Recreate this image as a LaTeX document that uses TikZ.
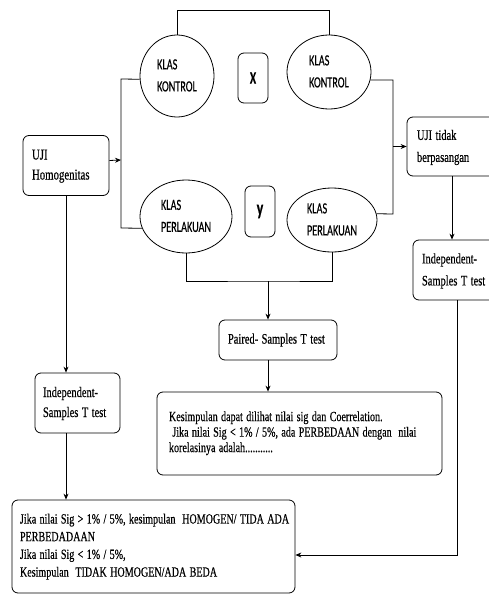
\documentclass[tikz,border=0pt]{standalone}
\usepackage{fontspec}
\usepackage{graphicx}
\setmainfont{Liberation Serif}[FakeBold=0.6,WordSpace=0.75]
\newfontfamily\klasfont{Carlito}[FakeBold=0.4]
\newcommand\sqz[2][0.72]{\scalebox{#1}[1]{\begin{tabular}{@{}l@{}}#2\end{tabular}}}
\usetikzlibrary{arrows.meta,shapes.geometric}
\begin{document}
\begin{tikzpicture}[x=1pt,y=-1pt,line width=0.8pt,
  arr/.style={-{Stealth[length=6pt,width=5pt]}},
  bx/.style={draw,rounded corners=6pt,inner ysep=0pt,align=left},
  sbox/.style={draw,rounded corners=6pt,inner sep=0pt,minimum width=30pt,font=\klasfont\bfseries\fontsize{17}{20}\selectfont},
  el/.style={draw,ellipse,inner sep=0pt,font=\klasfont\fontsize{15.5}{22}\selectfont}]
\useasboundingbox (0,0) rectangle (488,594);

% ellipses
\node[el,minimum width=74pt,minimum height=82pt] (kk1) at (177,76) {\sqz[0.66]{KLAS\\KONTROL}};
\node[el,minimum width=84pt,minimum height=74pt] (kk2) at (329,72) {\sqz[0.66]{KLAS\\KONTROL}};
\node[el,minimum width=92pt,minimum height=73pt] (kp1) at (186,216.5) {\sqz[0.66]{KLAS\\PERLAKUAN}};
\node[el,minimum width=90pt,minimum height=64pt] (kp2) at (332,220) {\sqz[0.66]{KLAS\\PERLAKUAN}};

% small boxes
\node[sbox,minimum height=50pt] (bx) at (253,78) {\raisebox{-4pt}{\scalebox{0.66}[1]{X}}};
\node[sbox,minimum height=51pt,font=\klasfont\bfseries\fontsize{21}{22}\selectfont] (by) at (260,211.5) {\raisebox{-4pt}{\scalebox{0.66}[1]{y}}};

% text boxes
\node[bx,inner xsep=9pt,text width=68pt,minimum height=60pt,font=\fontsize{15}{20}\selectfont] (homog) at (66,165.5) {\sqz{UJI\\Homogenitas}};
\node[bx,inner xsep=10pt,text width=70pt,minimum height=59pt,font=\fontsize{14.5}{22}\selectfont] (uji2) at (452,146.5) {\sqz{UJI tidak\\berpasangan}};
\node[bx,inner xsep=9pt,text width=70pt,minimum height=60pt,font=\fontsize{14.5}{22}\selectfont] (ind2) at (457,270) {\sqz{Independent-\\Samples T test}};
\node[bx,inner xsep=8pt,text width=69pt,minimum height=60pt,font=\fontsize{14.5}{20}\selectfont] (ind1) at (77.5,403) {\sqz{Independent-\\Samples T test}};
\node[bx,inner xsep=9pt,text width=100pt,minimum height=40pt,font=\fontsize{14.5}{18}\selectfont] (paired) at (278,340) {\sqz{Paired- Samples T test}};
\node[bx,inner xsep=12pt,text width=261pt,minimum height=83pt,font=\fontsize{14}{15.5}\selectfont] (kes) at (299.5,433.5) {\sqz{Kesimpulan dapat dilihat nilai sig dan Coerrelation.\\ \ Jika nilai Sig < 1\% / 5\%, ada PERBEDAAN dengan\ \ nilai\\korelasinya adalah...........}};
\node[bx,inner xsep=8pt,text width=267pt,minimum height=93pt,font=\fontsize{14}{17.7}\selectfont] (bot) at (153.5,546.5) {\sqz{Jika nilai Sig > 1\% / 5\%, kesimpulan\ \ HOMOGEN/ TIDA ADA\\PERBEDADAAN\\Jika nilai Sig < 1\% / 5\%,\\Kesimpulan\ \ TIDAK HOMOGEN/ADA BEDA}};

% junction coordinates
\coordinate (lt) at (121,79);
\coordinate (lb) at (121,228);
\coordinate (lm) at (121,160);
\coordinate (rt) at (393,80);
\coordinate (rb) at (393,214);
\coordinate (rm) at (393,146.5);
\coordinate (bj) at (268,281);

% connectors
\draw (kk1.north) -- ++(0,-24) -| (kk2.north);
\draw (kk1.185) -- (lt) -- (lb) -- (kp1.195);
\draw[arr] ([yshift=5pt]homog.east) -- (lm);
\draw (kk2.-11) -- (rt) -- (rb) -- (kp2.8);
\draw[arr] (rm) -- (uji2.west);
\draw (kp1.south) |- (bj) -| (kp2.south);
\draw[arr] (bj) -- (bj |- paired.north);
\draw[arr] (paired.south -| bj) -- (kes.north -| bj);
\draw[arr] (homog.south) -- (homog.south |- ind1.north);
\draw[arr] (ind1.south -| homog.south) -- (bot.north -| homog.south);
\draw[arr] (uji2.south) -- (uji2.south |- ind2.north);
\draw[arr] (ind2.south) |- ([yshift=-8.5pt]bot.east);
\end{tikzpicture}
\end{document}
